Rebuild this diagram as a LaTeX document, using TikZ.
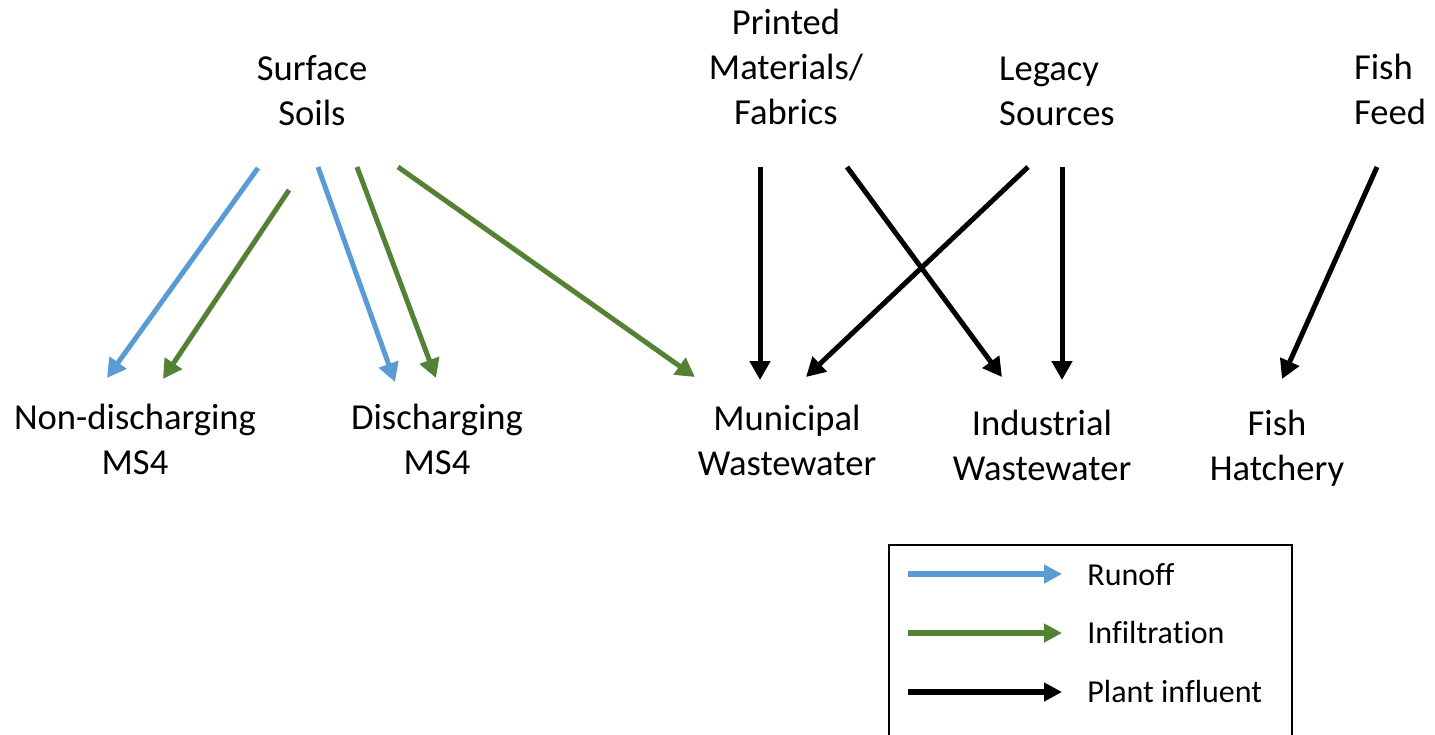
\documentclass[tikz,border=0pt]{standalone}
\usepackage{fontspec}
\setmainfont{Carlito}[Ligatures=NoCommon]
\usetikzlibrary{arrows.meta}

\definecolor{runoffblue}{HTML}{5B9BD5}
\definecolor{infilgreen}{HTML}{548235}

\tikzset{
  % multi-line labels are anchored at the baseline of their last line
  label18/.style={anchor=base, inner sep=0pt, align=center,
    font=\fontsize{18.3}{22.3}\selectfont},
  legendtext/.style={anchor=base west, inner sep=0pt,
    font=\fontsize{16}{19}\selectfont},
  flow/.style={line width=2.5pt, -{Triangle[length=9.5pt,width=10pt]}},
  runoff/.style={flow, draw=runoffblue},
  infil/.style={flow, draw=infilgreen},
  plant/.style={flow, draw=black},
  legendflow/.style={line width=3pt, -{Triangle[length=9pt,width=9pt]}},
}

\begin{document}
\begin{tikzpicture}[x=0.5pt, y=-0.5pt]
\useasboundingbox (0,0) rectangle (1435,734);

% sources
\node[label18] (ss)  at (312,125)  {Surface\\Soils};
\node[label18] (pmf) at (786,124)  {Printed\\Materials/\\Fabrics};
\node[label18, align=left] (leg) at (1057,125) {Legacy\\Sources};
\node[label18, align=left] (ff)  at (1390,124) {Fish\\Feed};

% receivers
\node[label18] (nd)  at (135,474)  {Non-discharging\\MS4};
\node[label18] (dis) at (437,474)  {Discharging\\MS4};
\node[label18] (mww) at (787,475)  {Municipal\\Wastewater};
\node[label18] (iww) at (1042,480) {Industrial\\Wastewater};
\node[label18] (fh)  at (1277,480) {Fish\\Hatchery};

% arrow end points
\coordinate (ss-r1) at (258,168);
\coordinate (ss-i1) at (289,190);
\coordinate (ss-r2) at (318,167);
\coordinate (ss-i2) at (357,167);
\coordinate (ss-i3) at (398,167);
\coordinate (nd-r)  at (107,378);
\coordinate (nd-i)  at (163,379);
\coordinate (dis-r) at (395,382);
\coordinate (dis-i) at (436,378);
\coordinate (mww-i) at (695,377);
\coordinate (pmf-a) at (760,167);
\coordinate (pmf-b) at (847,167);
\coordinate (mww-a) at (760,380);
\coordinate (mww-b) at (806,377);
\coordinate (leg-a) at (1028,167);
\coordinate (leg-b) at (1062,167);
\coordinate (iww-a) at (1002,377);
\coordinate (iww-b) at (1062,380);
\coordinate (ff-a)  at (1377,167);
\coordinate (fh-a)  at (1282,379);

% runoff and infiltration from surface soils
\draw[runoff] (ss-r1) -- (nd-r);
\draw[infil]  (ss-i1) -- (nd-i);
\draw[runoff] (ss-r2) -- (dis-r);
\draw[infil]  (ss-i2) -- (dis-i);
\draw[infil]  (ss-i3) -- (mww-i);

% plant influent
\draw[plant] (pmf-a) -- (mww-a);
\draw[plant] (pmf-b) -- (iww-a);
\draw[plant] (leg-a) -- (mww-b);
\draw[plant] (leg-b) -- (iww-b);
\draw[plant] (ff-a)  -- (fh-a);

% legend
\draw[line width=1.2pt] (889,800) -- (889,545) -- (1292,545) -- (1292,800);
\coordinate (l1a) at (908,574);  \coordinate (l1b) at (1062,574);
\coordinate (l2a) at (908,633);  \coordinate (l2b) at (1062,633);
\coordinate (l3a) at (908,692);  \coordinate (l3b) at (1062,692);
\draw[legendflow, draw=runoffblue] (l1a) -- (l1b);
\draw[legendflow, draw=infilgreen] (l2a) -- (l2b);
\draw[legendflow, draw=black]      (l3a) -- (l3b);
\node[legendtext] (lt1) at (1087,585) {Runoff};
\node[legendtext] (lt2) at (1087,643) {Infiltration};
\node[legendtext] (lt3) at (1087,702) {Plant influent};
\end{tikzpicture}
\end{document}
